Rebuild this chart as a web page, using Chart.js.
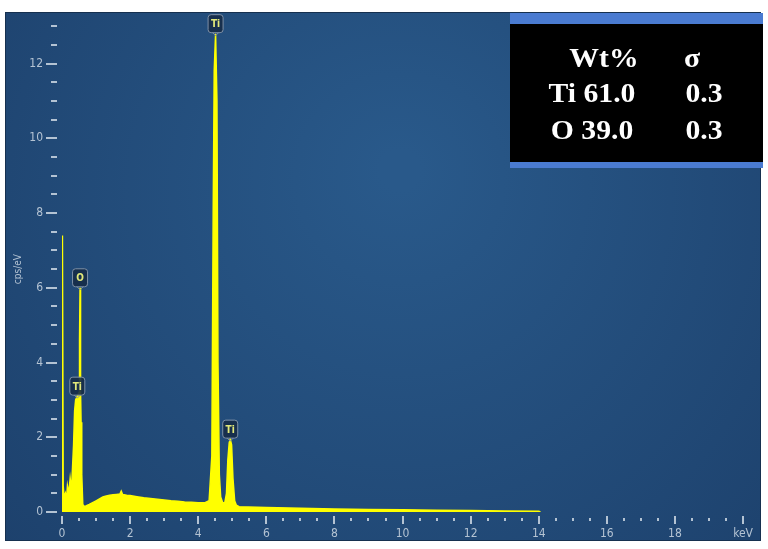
<!DOCTYPE html>
<html>
<head>
<meta charset="utf-8">
<script src="https://cdn.jsdelivr.net/npm/chart.js@4.4.0/dist/chart.umd.min.js"></script>
<style>
  html, body { margin: 0; padding: 0; background: #fff; }
  #wrap { width: 768px; height: 549px; position: relative; }
</style>
</head>
<body>
<div id="wrap"><canvas id="myChart"></canvas></div>
<script>
// spectrum (keV vs cps/eV)
var energies = [0.00, 0.005, 0.02, 0.035, 0.06, 0.10, 0.13, 0.16, 0.20, 0.24, 0.28, 0.31, 0.34, 0.37, 0.40, 0.45, 0.50, 0.515, 0.53, 0.545, 0.56, 0.58, 0.61, 0.65,
  0.70, 0.80, 0.90, 1.00, 1.10, 1.20, 1.30, 1.40, 1.50, 1.60, 1.70, 1.74, 1.78, 1.90, 2.00, 2.20, 2.40, 2.60, 2.80, 3.00,
  3.20, 3.40, 3.60, 3.80, 4.00, 4.20, 4.32, 4.40, 4.44, 4.47, 4.51, 4.55, 4.58, 4.62, 4.66, 4.72, 4.78, 4.83, 4.87, 4.91, 4.94,
  4.98, 5.02, 5.07, 5.12, 5.20, 6.00, 7.00, 8.00, 9.00, 10.0, 11.0, 12.0, 13.0, 14.0, 14.05];
var counts = [0.2, 7.4, 7.4, 0.7, 0.4, 0.5, 0.3, 0.7, 0.5, 0.9, 0.6, 1.2, 1.8, 2.7, 3.0, 3.1, 3.2, 4.6, 6.0, 3.2, 2.4, 1.0, 0.2, 0.15,
  0.16, 0.2, 0.25, 0.3, 0.35, 0.4, 0.43, 0.45, 0.46, 0.47, 0.48, 0.56, 0.47, 0.45, 0.44, 0.41, 0.38, 0.36, 0.34, 0.32,
  0.3, 0.29, 0.27, 0.26, 0.25, 0.25, 0.3, 1.5, 8.0, 11.8, 12.8, 11.0, 4.0, 1.0, 0.4, 0.25, 0.25, 0.5, 1.4, 1.85, 1.95,
  1.8, 0.9, 0.3, 0.18, 0.14, 0.12, 0.1, 0.08, 0.07, 0.06, 0.05, 0.04, 0.03, 0.02, 0];

// element line markers
var lineNames = ["O", "Ti", "Ti", "Ti"];
var lineEnergies = [0.53, 0.45, 4.51, 4.94];

// axis tick labels
var xLabelValues = [0, 2, 4, 6, 8, 10, 12, 14, 16, 18];
var xUnitLabel = "keV";
var yLabelValues = [0, 2, 4, 6, 8, 10, 12];

// quantification table
var tableHeader = ["Wt%", "σ"];
var tableElements = ["Ti", "O"];
var tableWt = ["61.0", "39.0"];
var tableSigma = ["0.3", "0.3"];

var points = energies.map(function (e, i) { return { x: e, y: counts[i] }; });
var tickFont = "'Liberation Sans Narrow', 'DejaVu Sans Condensed', 'DejaVu Sans', sans-serif";
var tickColor = "#b4c3d3";

function peakAt(e) {
  var best = 0, d = 1e9;
  energies.forEach(function (v, i) {
    if (Math.abs(v - e) < d) { d = Math.abs(v - e); best = i; }
  });
  return counts[best];
}

var framePlugin = {
  id: "frame",
  beforeDraw: function (chart) {
    var ctx = chart.ctx;
    ctx.save();
    ctx.fillStyle = "#fff";
    ctx.fillRect(0, 0, chart.width, chart.height);
    var g = ctx.createRadialGradient(400, 170, 20, 400, 220, 560);
    g.addColorStop(0, "#29598a");
    g.addColorStop(1, "#1c3f6a");
    ctx.fillStyle = g;
    ctx.fillRect(5, 12, 756, 529);
    ctx.strokeStyle = "#16304f";
    ctx.lineWidth = 1;
    ctx.strokeRect(5.5, 12.5, 755, 528);
    ctx.restore();
  },
  beforeDatasetsDraw: function (chart) {
    // tick marks: long at labelled values, short in between
    var ctx = chart.ctx, xs = chart.scales.x, ys = chart.scales.y;
    ctx.save();
    ctx.strokeStyle = tickColor;
    ctx.lineWidth = 2;
    xs.ticks.forEach(function (t) {
      var px = Math.round(xs.getPixelForValue(t.value));
      var major = t.value % 2 === 0;
      ctx.beginPath();
      ctx.moveTo(px, xs.top + (major ? 4 : 6));
      ctx.lineTo(px, xs.top + (major ? 12 : 9));
      ctx.stroke();
    });
    ys.ticks.forEach(function (t) {
      var py = Math.round(ys.getPixelForValue(t.value));
      var major = t.value % 2 === 0;
      ctx.beginPath();
      ctx.moveTo(major ? 46 : 51, py);
      ctx.lineTo(57, py);
      ctx.stroke();
    });
    ctx.restore();
  },
  afterDatasetsDraw: function (chart) {
    var ctx = chart.ctx, xs = chart.scales.x, ys = chart.scales.y;
    ctx.save();
    lineNames.forEach(function (name, i) {
      var px = xs.getPixelForValue(lineEnergies[i]);
      var py = ys.getPixelForValue(peakAt(lineEnergies[i]));
      var cy = Math.max(py - 10, 22);
      var w = 15, h = 18;
      ctx.strokeStyle = "#93a27a";
      ctx.lineWidth = 1;
      if (cy + h / 2 + 3 < py) {
        ctx.beginPath();
        ctx.moveTo(px + 0.5, cy + h / 2 + 3);
        ctx.lineTo(px + 0.5, py);
        ctx.stroke();
      }
      ctx.fillStyle = "rgba(22,44,72,0.9)";
      ctx.strokeStyle = "#7e90a6";
      ctx.beginPath();
      ctx.roundRect(px - w / 2, cy - h / 2, w, h, 3);
      ctx.fill();
      ctx.stroke();
      ctx.beginPath();
      ctx.moveTo(px - 3, cy + h / 2);
      ctx.lineTo(px, cy + h / 2 + 3);
      ctx.lineTo(px + 3, cy + h / 2);
      ctx.stroke();
      ctx.fillStyle = "#e2e97a";
      ctx.font = "bold 10px " + tickFont;
      ctx.textAlign = "center";
      ctx.textBaseline = "middle";
      ctx.fillText(name, px, cy + 1);
    });
    ctx.restore();
  },
  afterDraw: function (chart) {
    // Wt% table, top right
    var ctx = chart.ctx;
    ctx.save();
    ctx.fillStyle = "#000";
    ctx.fillRect(510, 13, 253, 155);
    ctx.fillStyle = "#4a7bd1";
    ctx.fillRect(510, 13, 253, 11);
    ctx.fillRect(510, 162, 253, 6);
    ctx.fillStyle = "#fff";
    ctx.font = "bold 27px 'Liberation Serif', 'Times New Roman', serif";
    ctx.textAlign = "center";
    ctx.textBaseline = "alphabetic";
    function txt(s, cx, by) {
      ctx.save();
      ctx.translate(cx, by);
      ctx.scale(1.1, 1);
      ctx.fillText(s, 0, 0);
      ctx.restore();
    }
    txt(tableHeader[0], 604, 67);
    txt(tableHeader[1], 692, 67);
    tableElements.forEach(function (el, i) {
      var by = 102 + i * 37;
      txt(el + " " + tableWt[i], 592, by);
      txt(tableSigma[i], 704, by);
    });
    ctx.restore();
  }
};

new Chart("myChart", {
  type: "line",
  data: {
    datasets: [{
      data: points,
      borderColor: "#ffff00",
      backgroundColor: "#ffff00",
      borderWidth: 1.5,
      pointRadius: 0,
      fill: "origin",
      tension: 0
    }]
  },
  options: {
    responsive: true,
    maintainAspectRatio: false,
    devicePixelRatio: 1,
    animation: false,
    layout: { padding: { left: 0, top: 18, right: 20, bottom: 0 } },
    plugins: { legend: { display: false }, tooltip: { enabled: false } },
    scales: {
      x: {
        type: "linear",
        min: 0,
        max: 20,
        grid: { display: false, drawTicks: false },
        border: { display: false },
        ticks: {
          stepSize: 0.5,
          autoSkip: false,
          maxRotation: 0,
          padding: 15,
          color: tickColor,
          font: { family: tickFont, size: 12 },
          callback: function (v) {
            if (v === 20) return xUnitLabel;
            return xLabelValues.indexOf(v) >= 0 ? String(v) : "";
          }
        },
        afterFit: function (s) { s.height = 37; }
      },
      y: {
        min: 0,
        max: 13,
        grid: { display: false, drawTicks: false },
        border: { display: false },
        title: {
          display: true,
          text: "cps/eV",
          color: tickColor,
          font: { family: tickFont, size: 10 },
          padding: { top: 12 }
        },
        ticks: {
          stepSize: 0.5,
          autoSkip: false,
          padding: 19,
          color: tickColor,
          font: { family: tickFont, size: 12 },
          callback: function (v) {
            return yLabelValues.indexOf(v) >= 0 ? String(v) : "";
          }
        },
        afterFit: function (s) { s.width = 62; }
      }
    }
  },
  plugins: [framePlugin]
});
</script>
</body>
</html>
